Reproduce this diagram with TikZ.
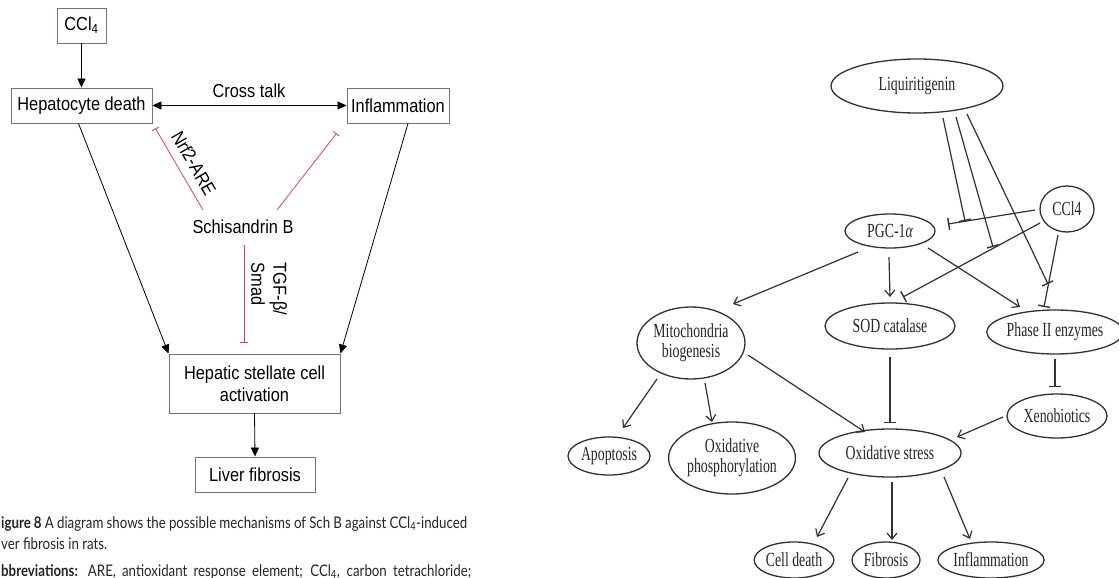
\documentclass[tikz,border=0pt]{standalone}
\usepackage{fontspec}
\usetikzlibrary{arrows.meta,shapes.geometric}
\newfontfamily\arialf[FakeStretch=0.87]{Liberation Sans}
\newfontfamily\timesf[FakeStretch=0.69]{Liberation Serif}
\newfontfamily\capf[FakeStretch=0.83]{Lato}

\definecolor{boxc}{RGB}{120,110,130}
\definecolor{inhred}{RGB}{215,70,80}
\definecolor{ellc}{RGB}{50,50,50}

\tikzset{
 lbox/.style={draw=boxc, line width=0.9pt, rectangle, inner sep=0pt, align=center,
   font=\arialf\fontsize{18.8}{22}\selectfont, text=black},
 ltext/.style={font=\arialf\fontsize{18.8}{22}\selectfont, inner sep=0pt, align=left},
 larr/.style={draw=black, line width=0.8pt, -{Triangle[length=9pt,width=8pt]}},
 ldarr/.style={draw=black, line width=0.8pt, {Triangle[length=9pt,width=8pt]}-{Triangle[length=9pt,width=8pt]}},
 linh/.style={draw=inhred, line width=0.8pt, -{Bar[width=8pt,line width=0.8pt]}},
 ell/.style={draw=ellc, ellipse, line width=1.3pt, inner sep=0pt, align=center,
   font=\timesf\fontsize{20}{20}\selectfont, text=black!85},
 rarr/.style={draw=ellc, line width=1.2pt, -{Straight Barb[length=6pt,width=10pt,line width=1.2pt]}},
 rinh/.style={draw=ellc, line width=1.2pt, -{Bar[width=12pt,line width=1.4pt]}},
 captxt/.style={font=\capf\fontsize{16}{18}\selectfont, anchor=base west, inner sep=0pt, text=black!85},
}

\begin{document}
\begin{tikzpicture}[x=1pt,y=-1pt]
\path[use as bounding box] (0,0) rectangle (1119,578);
\clip (0,0) rectangle (1119,578);
\fill[white] (0,0) rectangle (1119,578);

% ---------------- left diagram ----------------
\node[lbox, minimum width=49pt, minimum height=35pt] (ccl) at (81.5,25.5) {CCl\textsubscript{4}};
\node[lbox, minimum width=141pt, minimum height=35pt] (hep) at (81.5,105.5) {Hepatocyte death};
\node[lbox, minimum width=102pt, minimum height=35pt] (inf) at (398,105.5) {Inflammation};
\node[ltext] (sch) at (243,227) {Schisandrin B};
\node[lbox, minimum width=171pt, minimum height=59pt] (hsc) at (254.5,383.5) {Hepatic stellate cell\\activation};
\node[lbox, minimum width=120pt, minimum height=35pt] (lf) at (255,474.5) {Liver fibrosis};

\draw[larr] (ccl.south) -- (hep.north);
\draw[ldarr] (hep.east) -- (inf.west);
\node[ltext] (ct) at (249,91) {Cross talk};
\draw[linh] ([shift={(-40,-17)}]sch.center) -- ([shift={(3,5)}]hep.south east);
\draw[linh] ([shift={(34,-17)}]sch.center) -- ([shift={(-10,10)}]inf.south west);
\draw[linh] ([shift={(1,18)}]sch.center) -- ([shift={(-10.5,-11)}]hsc.north);
\node[ltext, rotate=-60] (nrf) at (194,163) {Nrf2-ARE};
\node[ltext, rotate=-90] (tgf) at (269,289) {TGF-β/\\Smad};
\draw[larr] ([shift={(-3,0)}]hep.south) -- (hsc.north west);
\draw[larr] ([shift={(10,0)}]inf.south) -- (hsc.north east);
\draw[larr] (hsc.south) -- (lf.north);

% caption
\node[captxt] (c1) at (1,528) {\makebox[466pt][s]{\textbf{igure 8} A diagram shows the possible mechanisms of Sch B against CCl\textsubscript{4}-induced}};
\node[captxt] (c2) at (1,549) {ver fibrosis in rats.};
\node[captxt] (c3) at (1,576) {\makebox[470pt][s]{\textbf{bbreviations:} ARE, antioxidant response element; CCl\textsubscript{4}, carbon tetrachloride;}};

% ---------------- right diagram ----------------
\node[ell, minimum width=172pt, minimum height=54pt] (liq) at (917,86) {Liquiritigenin};
\node[ell, minimum width=54pt, minimum height=46pt] (ccl4) at (1067,209) {CCl4};
\node[ell, minimum width=90pt, minimum height=34pt] (pgc) at (890,231) {PGC-1{\itshape α}};
\node[ell, minimum width=108pt, minimum height=72pt] (mito) at (691,343) {Mitochondria\\biogenesis};
\node[ell, minimum width=130pt, minimum height=46pt] (sod) at (890,326) {SOD catalase};
\node[ell, minimum width=132pt, minimum height=44pt] (ph2) at (1055,332) {Phase II enzymes};
\node[ell, minimum width=100pt, minimum height=44pt] (xen) at (1057,416) {Xenobiotics};
\node[ell, minimum width=142pt, minimum height=48pt] (ox) at (890,453) {Oxidative stress};
\node[ell, minimum width=82pt, minimum height=38pt] (apo) at (609,456) {Apoptosis};
\node[ell, minimum width=124pt, minimum height=72pt] (oxp) at (732,458) {Oxidative\\phosphorylation};
\node[ell, minimum width=74pt, minimum height=36pt] (cd) at (794,560) {Cell death};
\node[ell, minimum width=68pt, minimum height=36pt] (fib) at (886,560) {Fibrosis};
\node[ell, minimum width=100pt, minimum height=36pt] (infl) at (991,560) {Inflammation};

% targets lying on other connectors
\coordinate (t1) at (965,221);
\coordinate (t2) at (993,247);
\coordinate (t3) at (1048,284);

\draw[rinh] ([shift={(-32,1)}]ccl4.center) -- ([shift={(58,-7)}]pgc.center);
\draw[rinh] ([shift={(-27,14)}]ccl4.center) -- ([shift={(13,-29)}]sod.center);
\draw[rinh] ([shift={(-9,26)}]ccl4.center) -- ([shift={(-11,-25)}]ph2.center);
\draw[rinh] ([shift={(26,32)}]liq.center) -- (t1);
\draw[rinh] ([shift={(39,31)}]liq.center) -- (t2);
\draw[rinh] ([shift={(50,28)}]liq.center) -- (t3);

\draw[rarr] ([shift={(-32,21)}]pgc.center) -- ([shift={(42,-39)}]mito.center);
\draw[rarr] ([shift={(-1,26)}]pgc.center) -- ([shift={(0,-29)}]sod.center);
\draw[rarr] ([shift={(38,17)}]pgc.center) -- ([shift={(-35,-25)}]ph2.center);
\draw[rarr] ([shift={(-34,36)}]mito.center) -- ([shift={(14,-28)}]apo.center);
\draw[rarr] ([shift={(14,40)}]mito.center) -- ([shift={(-20,-36)}]oxp.center);
\draw[rarr] ([shift={(57,12)}]mito.center) -- ([shift={(-25,-21)}]ox.center);
\draw[rinh] ([shift={(0,31)}]sod.center) -- ([shift={(0,-30)}]ox.center);
\draw[rinh] ([shift={(0,27)}]ph2.center) -- ([shift={(-2,-29)}]xen.center);
\draw[rarr] ([shift={(-54,1)}]xen.center) -- ([shift={(67,-16)}]ox.center);
\draw[rarr] ([shift={(-42,25)}]ox.center) -- ([shift={(23,-23)}]cd.center);
\draw[rarr] ([shift={(2,29)}]ox.center) -- ([shift={(6,-20)}]fib.center);
\draw[rarr] ([shift={(54,24)}]ox.center) -- ([shift={(-21,-21)}]infl.center);
\end{tikzpicture}
\end{document}
